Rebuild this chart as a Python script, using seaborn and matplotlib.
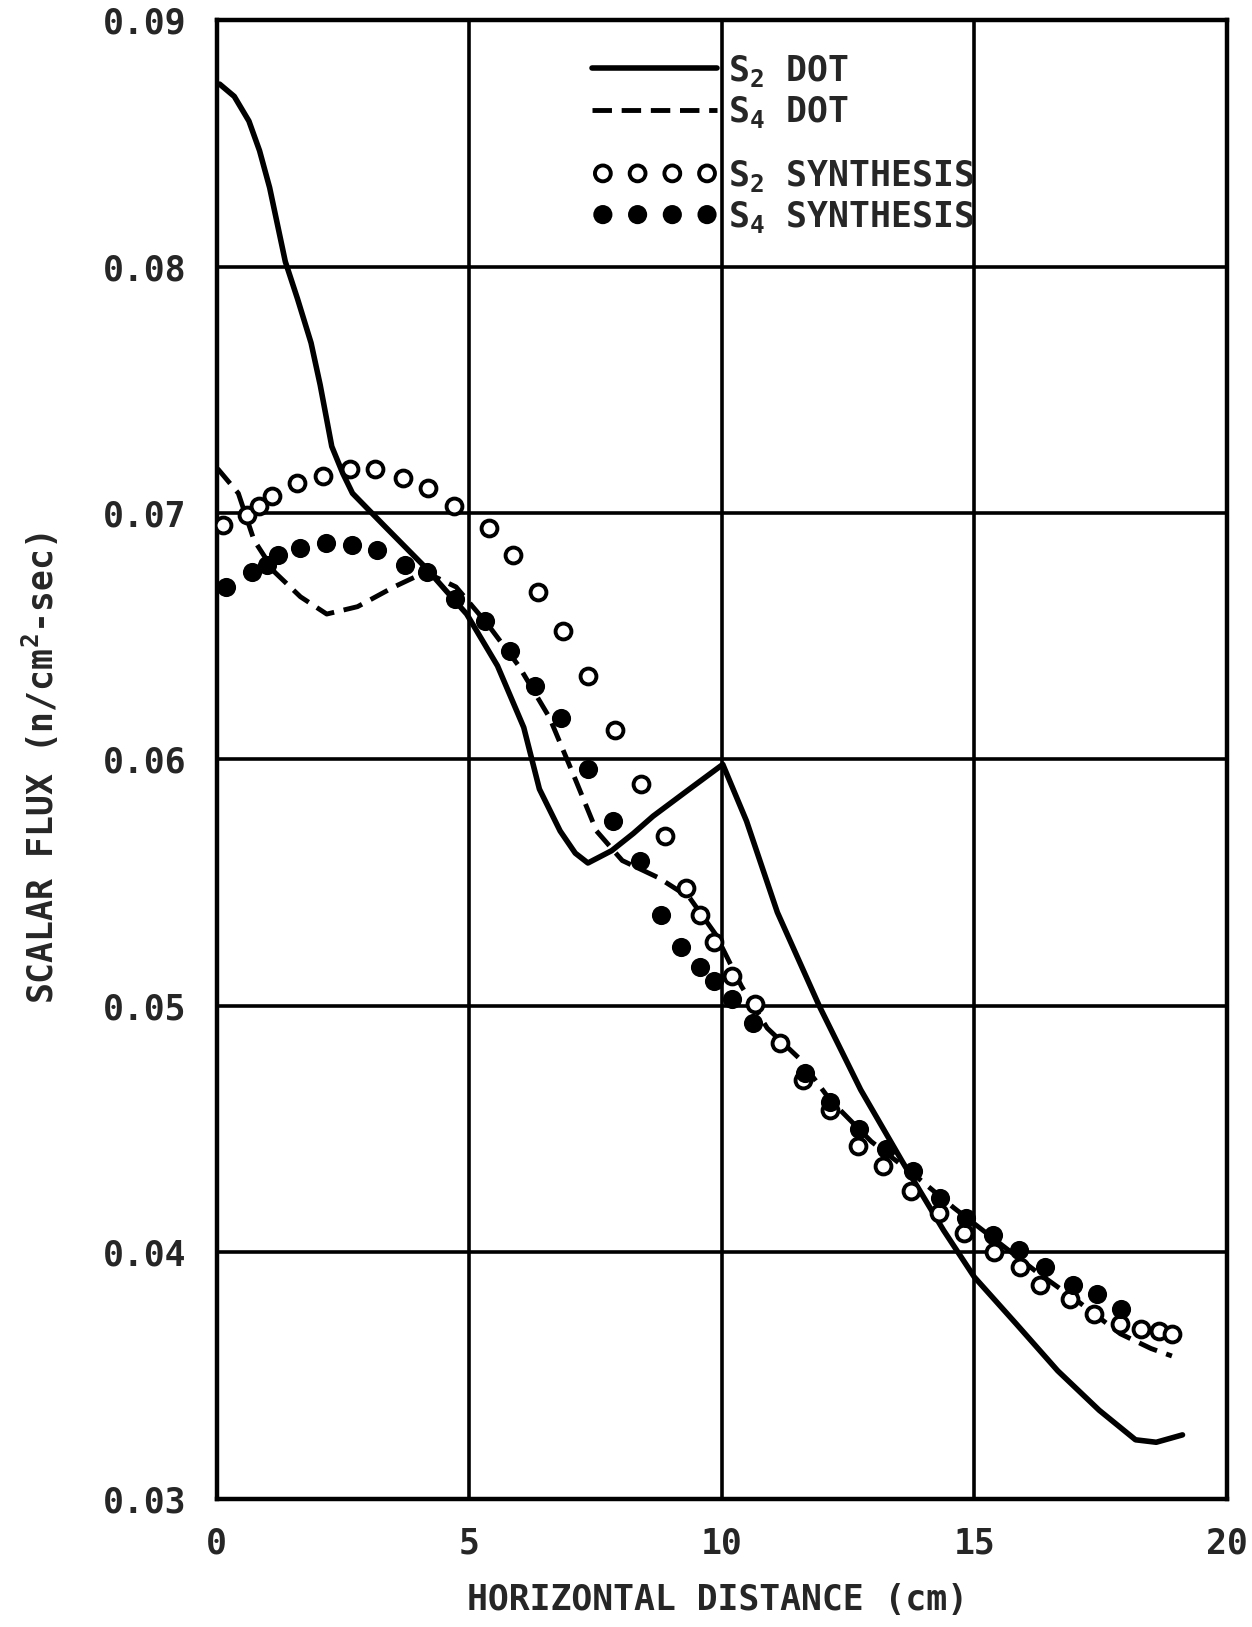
import numpy as np
import pandas as pd
import matplotlib
matplotlib.use("Agg")
import matplotlib.pyplot as plt
import seaborn as sns

# S2 DOT (solid line)
s2_dot_x = [0.06, 0.35, 0.64, 0.85, 1.05, 1.36, 1.6, 1.87, 2.05, 2.28, 2.5, 2.69, 3.31, 4.13, 4.95,
            5.56, 6.08, 6.39, 6.8, 7.1, 7.35, 7.82, 8.25, 8.64, 9.36, 10.02, 10.49, 11.1, 11.93,
            12.75, 13.57, 14.39, 15.0, 15.83, 16.65, 17.47, 18.19, 18.6, 19.12]
s2_dot_y = [0.0874, 0.0869, 0.0859, 0.0847, 0.0832, 0.0802, 0.0787, 0.0769, 0.0752, 0.0727, 0.0716,
            0.0708, 0.0695, 0.0678, 0.0659, 0.0638, 0.0613, 0.0588, 0.0571, 0.0562, 0.0558, 0.0563,
            0.0570, 0.0577, 0.0588, 0.0598, 0.0575, 0.0538, 0.0500, 0.0466, 0.0437, 0.0409, 0.0390,
            0.0371, 0.0352, 0.0336, 0.0324, 0.0323, 0.0326]

# S4 DOT (dashed line)
s4_dot_x = [0.02, 0.43, 0.74, 1.15, 1.66, 2.18, 2.79, 3.51, 4.13, 4.74, 5.36, 5.98, 6.59, 7.1, 7.52,
            8.03, 8.75, 9.36, 9.88, 10.39, 10.9, 11.52, 12.14, 12.96, 13.78, 14.6, 15.42, 16.24,
            17.06, 17.89, 18.5, 18.91]
s4_dot_y = [0.0718, 0.0708, 0.0689, 0.0676, 0.0666, 0.0659, 0.0662, 0.0670, 0.0676, 0.0670, 0.0655,
            0.0638, 0.0617, 0.0592, 0.0571, 0.0559, 0.0552, 0.0544, 0.0529, 0.0508, 0.0491, 0.0479,
            0.0462, 0.0445, 0.0432, 0.0418, 0.0405, 0.0392, 0.0380, 0.0367, 0.0361, 0.0358]

# S2 SYNTHESIS (open circles)
s2_syn_x = [0.12, 0.6, 0.84, 1.09, 1.6, 2.11, 2.65, 3.14, 3.68, 4.19, 4.7, 5.4, 5.87, 6.37, 6.86,
            7.35, 7.88, 8.4, 8.87, 9.3, 9.57, 9.84, 10.2, 10.66, 11.15, 11.6, 12.14, 12.69, 13.2,
            13.74, 14.29, 14.8, 15.38, 15.9, 16.3, 16.9, 17.37, 17.89, 18.3, 18.66, 18.91]
s2_syn_y = [0.0695, 0.0699, 0.0703, 0.0707, 0.0712, 0.0715, 0.0718, 0.0718, 0.0714, 0.0710, 0.0703,
            0.0694, 0.0683, 0.0668, 0.0652, 0.0634, 0.0612, 0.0590, 0.0569, 0.0548, 0.0537, 0.0526,
            0.0512, 0.0501, 0.0485, 0.0470, 0.0458, 0.0443, 0.0435, 0.0425, 0.0416, 0.0408, 0.0400,
            0.0394, 0.0387, 0.0381, 0.0375, 0.0371, 0.0369, 0.0368, 0.0367]

# S4 SYNTHESIS (filled circles)
s4_syn_x = [0.18, 0.7, 0.99, 1.21, 1.66, 2.16, 2.69, 3.18, 3.72, 4.17, 4.72, 5.32, 5.81, 6.3, 6.82,
            7.35, 7.84, 8.38, 8.79, 9.2, 9.57, 9.84, 10.2, 10.62, 11.64, 12.14, 12.71, 13.26, 13.78,
            14.31, 14.83, 15.36, 15.89, 16.39, 16.96, 17.43, 17.91]
s4_syn_y = [0.0670, 0.0676, 0.0679, 0.0683, 0.0686, 0.0688, 0.0687, 0.0685, 0.0679, 0.0676, 0.0665,
            0.0656, 0.0644, 0.0630, 0.0617, 0.0596, 0.0575, 0.0559, 0.0537, 0.0524, 0.0516, 0.0510,
            0.0503, 0.0493, 0.0473, 0.0461, 0.0450, 0.0442, 0.0433, 0.0422, 0.0414, 0.0407, 0.0401,
            0.0394, 0.0387, 0.0383, 0.0377]

x_ticks = [0, 5, 10, 15, 20]
y_ticks = [0.03, 0.04, 0.05, 0.06, 0.07, 0.08, 0.09]

sns.set_style("white")
plt.rcParams['font.family'] = ['DejaVu Sans Mono']
plt.rcParams['font.weight'] = 'bold'
plt.rcParams['mathtext.default'] = 'regular'

fig = plt.figure(figsize=(12.52, 16.27), dpi=100)
ax = fig.add_axes([0.173, 0.0787, 0.807, 0.909])

sns.lineplot(x=s2_dot_x, y=s2_dot_y, ax=ax, color='black', lw=4, label='S$_2$ DOT',
             sort=False, zorder=3)
sns.lineplot(x=s4_dot_x, y=s4_dot_y, ax=ax, color='black', lw=3.5, label='S$_4$ DOT',
             sort=False, zorder=3)
ax.lines[1].set_linestyle((0, (4, 2)))
sns.scatterplot(x=s2_syn_x, y=s2_syn_y, ax=ax, s=130, facecolor='white', edgecolor='black',
                linewidth=2.8, label='S$_2$ SYNTHESIS', zorder=4)
sns.scatterplot(x=s4_syn_x, y=s4_syn_y, ax=ax, s=190, color='black', edgecolor='black',
                linewidth=0, label='S$_4$ SYNTHESIS', zorder=5)

ax.set_xlim(0, 20)
ax.set_ylim(0.03, 0.09)
ax.set_xticks(x_ticks)
ax.set_yticks(y_ticks)
ax.set_yticklabels([f"{v:.2f}" for v in y_ticks])
ax.tick_params(length=0, labelsize=25)
ax.tick_params(axis='y', pad=22)
ax.tick_params(axis='x', pad=20)
ax.grid(True, color='black', lw=2.6, zorder=1)
ax.set_axisbelow(True)
for sp in ax.spines.values():
    sp.set_color('black')
    sp.set_linewidth(3.2)

ax.set_xlabel("HORIZONTAL DISTANCE (cm)", fontsize=25, fontweight='bold')
ax.set_ylabel("SCALAR FLUX (n/cm$^2$-sec)", fontsize=25, fontweight='bold')
ax.xaxis.set_label_coords(0.496, -0.057)
ax.yaxis.set_label_coords(-0.154, 0.494)

handles, labels = ax.get_legend_handles_labels()
leg_opts = dict(loc='upper left', frameon=False, fontsize=25, handlelength=3.6,
                handletextpad=0.3, labelspacing=0.15, borderpad=0, borderaxespad=0,
                scatterpoints=4, scatteryoffsets=[0.5])
leg1 = ax.legend(handles[:2], labels[:2], bbox_to_anchor=(0.372, 0.978), **leg_opts)
ax.add_artist(leg1)
ax.legend(handles[2:], labels[2:], bbox_to_anchor=(0.372, 0.907), **leg_opts)

fig.savefig("out.png", dpi=100)
